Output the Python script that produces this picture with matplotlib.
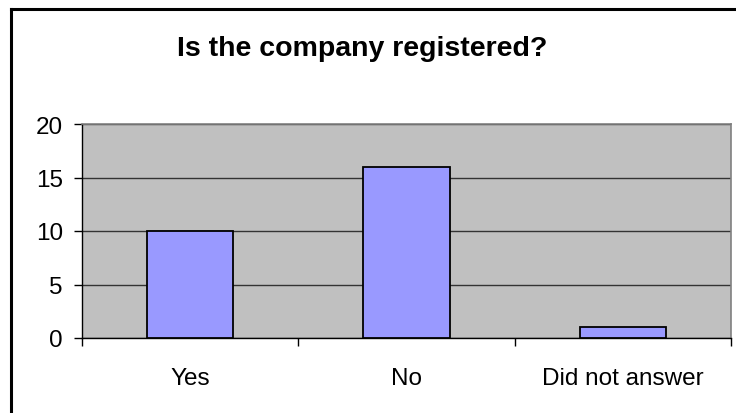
import matplotlib
matplotlib.use("Agg")
import matplotlib.pyplot as plt
from matplotlib.lines import Line2D

plt.rcParams['font.family'] = ['Liberation Sans', 'DejaVu Sans']

categories = ['Yes', 'No', 'Did not answer']
counts = [10, 16, 1]
yticks = [0, 5, 10, 15, 20]

W, H = 736, 414
fig = plt.figure(figsize=(W / 100, H / 100), dpi=100)
px = 72 / 100  # one pixel in points

# plot area in pixel coordinates
left, right, top, bottom = 82, 731, 125, 339
ax = fig.add_axes([left / W, 1 - bottom / H, (right - left) / W, (bottom - top) / H])
ax.set_facecolor('#C0C0C0')

x = range(len(categories))
ax.bar(x, counts, width=0.4, color='#9999FF', edgecolor='black', linewidth=1.3, zorder=3)

ax.set_xlim(-0.5, len(categories) - 0.5)
ax.set_ylim(0, 20)
ax.set_yticks(yticks)
ax.yaxis.grid(True, color='#333333', linewidth=1.0, zorder=1)
ax.set_axisbelow(True)

# category ticks at the boundaries, labels in the middle
ax.set_xticks([i - 0.5 for i in range(len(categories) + 1)])
ax.set_xticklabels([])
ax.set_xticks(list(x), minor=True)
ax.set_xticklabels(categories, minor=True)
ax.tick_params(axis='x', which='major', length=8 * px, width=1, color='black', direction='out')
ax.tick_params(axis='x', which='minor', length=0, pad=29 * px, labelsize=17.5)
ax.tick_params(axis='y', length=8 * px, width=1, color='black', pad=11 * px, labelsize=17.5)

for side in ['top', 'right']:
    ax.spines[side].set_color('#808080')
    ax.spines[side].set_linewidth(1.2)
for side in ['left', 'bottom']:
    ax.spines[side].set_color('black')
    ax.spines[side].set_linewidth(1.0)

fig.text(362 / W, 1 - 49 / H, 'Is the company registered?', ha='center', va='center',
         fontsize=20.5, fontweight='bold')

# outer chart border (only left and top fall inside the image)
fig.add_artist(Line2D([11 / W, 11 / W], [0, 1 - 10 / H], color='black', linewidth=2.2,
                      transform=fig.transFigure))
fig.add_artist(Line2D([11 / W, 1], [1 - 10 / H, 1 - 10 / H], color='black', linewidth=2.2,
                      transform=fig.transFigure))

fig.savefig('out.png', dpi=100)
